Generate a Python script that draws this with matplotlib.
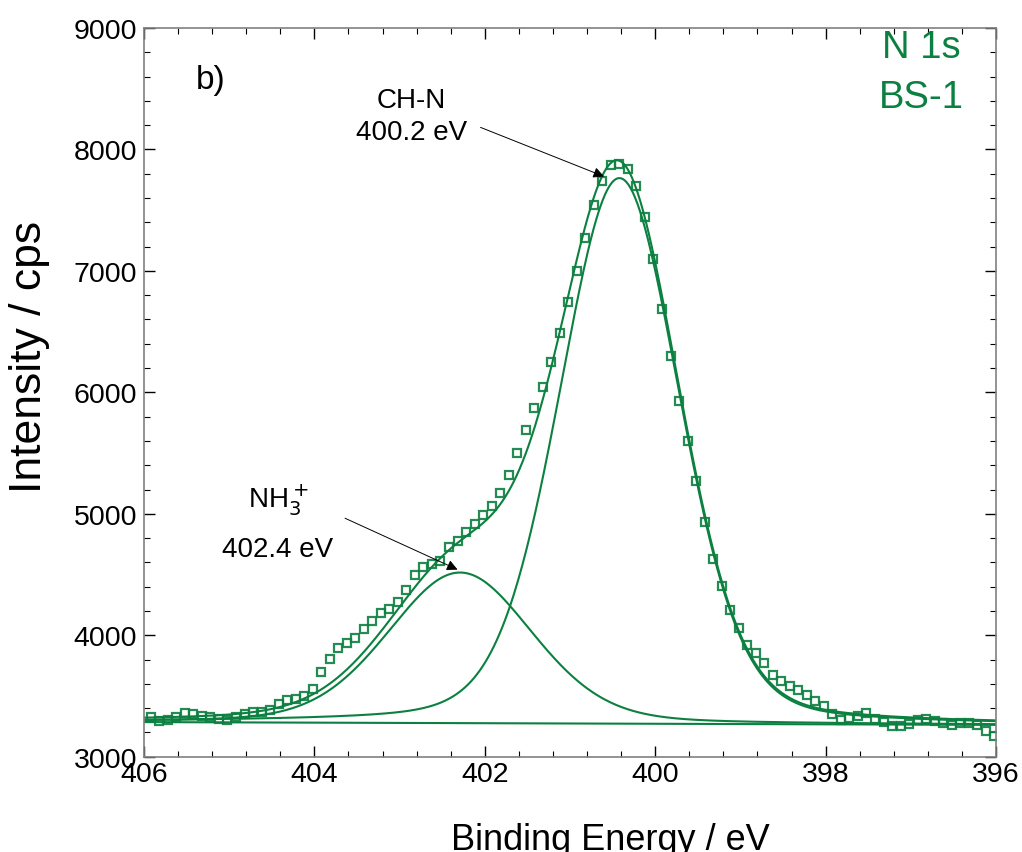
import numpy as np
import matplotlib
matplotlib.use("Agg")
import matplotlib.pyplot as plt
from matplotlib.ticker import MultipleLocator

plt.rcParams['font.family'] = ['Liberation Sans', 'DejaVu Sans']

# ---- data ----
e_start = 405.92
e_step = 0.1
intensity = [3329, 3296, 3304, 3329, 3356, 3348, 3337, 3329, 3313, 3302,
             3323, 3354, 3364, 3367, 3381, 3430, 3469, 3474, 3500, 3557,
             3697, 3801, 3897, 3938, 3981, 4048, 4119, 4185, 4218, 4273,
             4369, 4498, 4561, 4588, 4613, 4728, 4772, 4849, 4912, 4992,
             5068, 5173, 5323, 5502, 5686, 5870, 6045, 6249, 6487, 6747,
             7003, 7269, 7546, 7743, 7872, 7881, 7840, 7697, 7447, 7099,
             6687, 6298, 5928, 5603, 5269, 4932, 4624, 4402, 4204, 4059,
             3916, 3856, 3774, 3675, 3620, 3579, 3551, 3505, 3458, 3420,
             3354, 3299, 3319, 3335, 3360, 3307, 3286, 3249, 3249, 3272,
             3299, 3307, 3293, 3277, 3258, 3277, 3277, 3258, 3208, 3170]
energy = e_start - e_step * np.arange(len(intensity))

# fit components: linear background + two GL peaks
bg_ends = [3285, 3262]            # background at 406 and 396 eV
peak_centers = [400.42, 402.29]   # CH-N, NH3+
peak_heights = [4492, 1240]
peak_fwhm = [1.67, 2.0]
lorentz_frac = 0.2

green = '#0c8040'

def gl(x, c, h, w, m):
    g = np.exp(-4 * np.log(2) * ((x - c) / w) ** 2)
    l = 1.0 / (1 + 4 * ((x - c) / w) ** 2)
    return h * ((1 - m) * g + m * l)

xf = np.linspace(406, 396, 600)
bg = np.interp(xf, [396, 406], [bg_ends[1], bg_ends[0]])
p1 = gl(xf, peak_centers[0], peak_heights[0], peak_fwhm[0], lorentz_frac)
p2 = gl(xf, peak_centers[1], peak_heights[1], peak_fwhm[1], lorentz_frac)

fig = plt.figure(figsize=(10.22, 8.53), dpi=100)
ax = fig.add_axes([144 / 1022, 1 - 757.7 / 853, (996 - 144) / 1022, (757.7 - 29) / 853])

ax.plot(xf, bg, color=green, lw=1.5)
ax.plot(xf, bg + p1, color=green, lw=1.5)
ax.plot(xf, bg + p2, color=green, lw=1.5)
ax.plot(xf, bg + p1 + p2, color=green, lw=1.5)
ax.plot(energy, intensity, 's', mfc='none', mec=green, mew=1.6, ms=6.4, alpha=0.9)

ax.set_xlim(406, 396)
ax.set_ylim(3000, 9000)
ax.xaxis.set_major_locator(MultipleLocator(2))
ax.xaxis.set_minor_locator(MultipleLocator(0.4))
ax.yaxis.set_major_locator(MultipleLocator(1000))
ax.yaxis.set_minor_locator(MultipleLocator(200))
ax.tick_params(which='both', direction='in', top=True, right=True, color='black')
ax.tick_params(which='major', length=8, width=1, labelsize=20.5, pad=5)
ax.tick_params(which='minor', length=4, width=0.8)
ax.tick_params(axis='x', which='major', pad=3)
for s in ax.spines.values():
    s.set_color('#808080')
    s.set_linewidth(1.2)

fig.text(610 / 1022, 1 - 841 / 853, 'Binding Energy / eV', fontsize=26,
         ha='center', va='center')
fig.text(30 / 1022, 1 - 357 / 853, 'Intensity / cps', fontsize=32,
         ha='center', va='center', rotation=90)

ax.text(405.22, 8578, 'b)', fontsize=24, ha='center', va='center')
ax.text(396.88, 8840, 'N 1s', fontsize=27.5, color=green, ha='center', va='center')
ax.text(396.88, 8430, 'BS-1', fontsize=27.5, color=green, ha='center', va='center')

ax.text(402.86, 8410, 'CH-N', fontsize=20, ha='center', va='center')
ax.text(402.86, 8145, '400.2 eV', fontsize=20, ha='center', va='center')
ax.annotate('', xy=(400.57, 7769), xytext=(402.08, 8190),
            arrowprops=dict(arrowstyle='-|>', color='black', lw=0.7, mutation_scale=16))

ax.text(404.42, 5120, r'NH$_3^+$', fontsize=20, ha='center', va='center')
ax.text(404.43, 4710, '402.4 eV', fontsize=20, ha='center', va='center')
ax.annotate('', xy=(402.29, 4531), xytext=(403.67, 4973),
            arrowprops=dict(arrowstyle='-|>', color='black', lw=0.7, mutation_scale=16))

fig.savefig('out.png', dpi=100)
